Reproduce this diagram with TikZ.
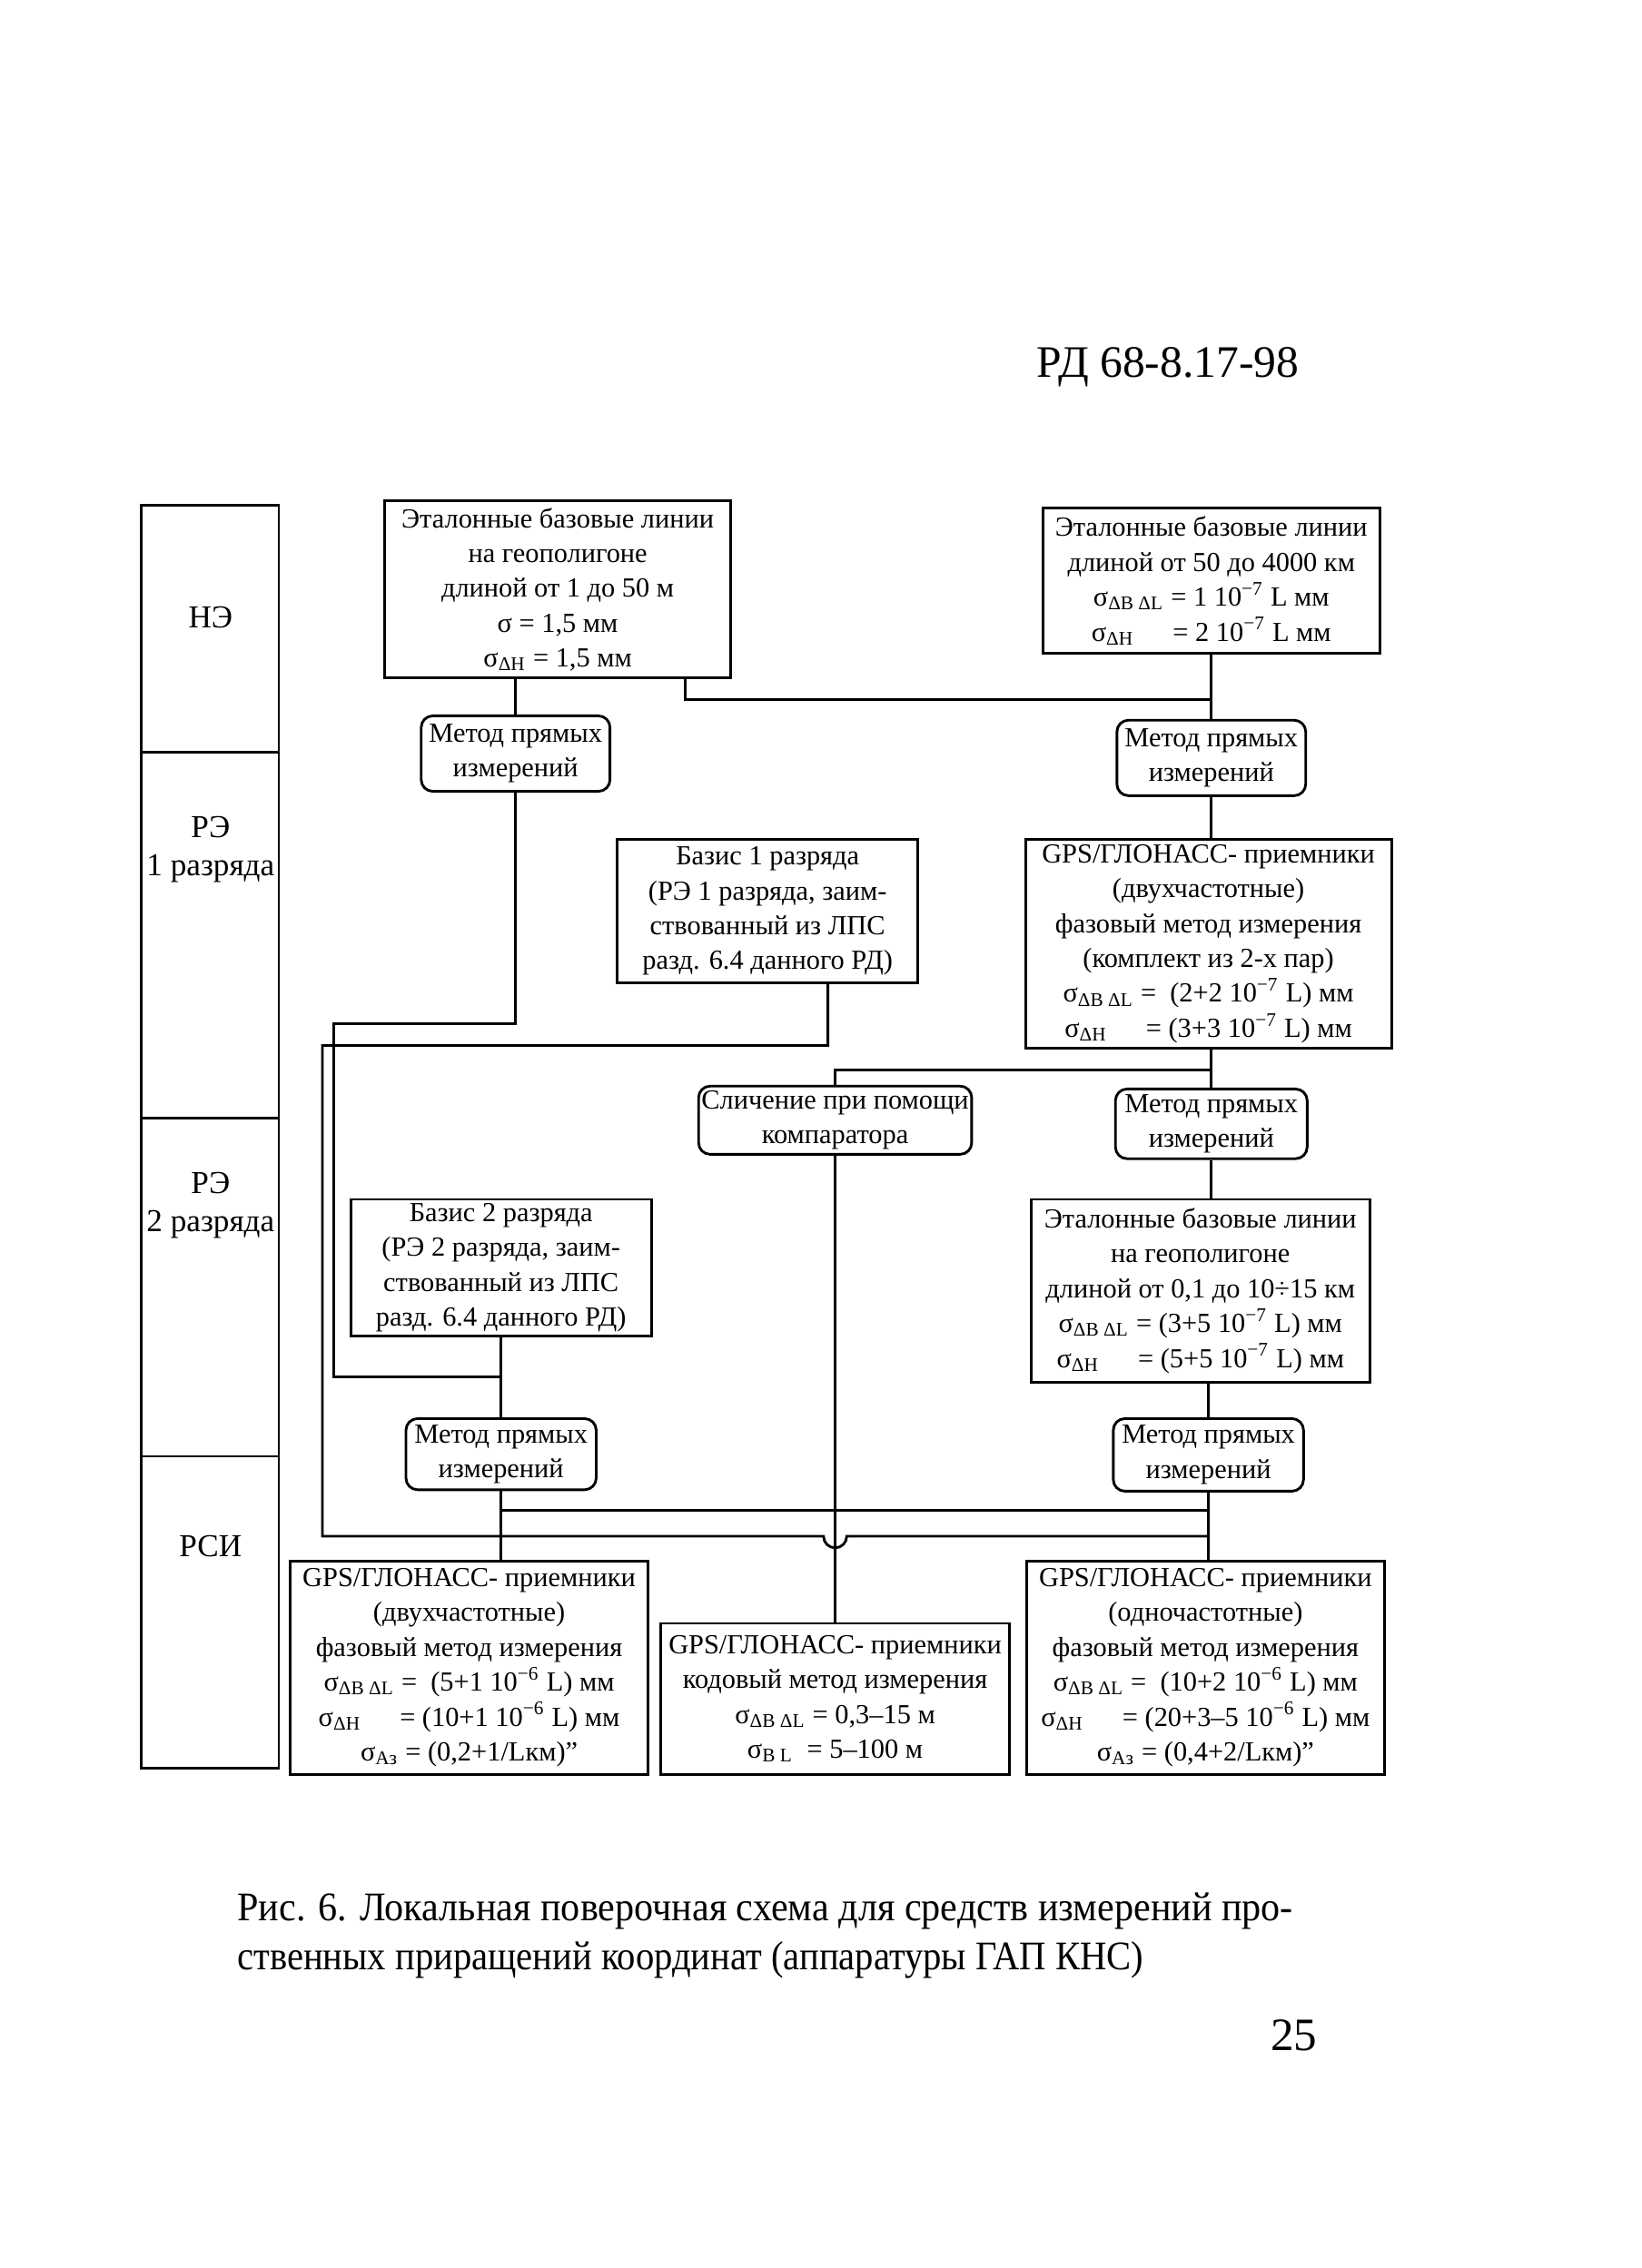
\documentclass[tikz,border=0pt]{standalone}
\usepackage{fontspec}
\setmainfont{Liberation Serif}
\usepackage{graphicx}
\newcommand{\sgm}[1]{σ\textsubscript{#1}}
\newcommand{\pw}[1]{\textsuperscript{#1}}
\begin{document}
\begin{tikzpicture}[x=0.5pt,y=-0.5pt,
  box/.style={draw, line width=0.9pt, align=center, inner sep=1pt, font=\fontsize{9.5}{12}\selectfont},
  rbox/.style={box, rounded corners=4pt},
  conn/.style={line width=0.9pt},
  lbl/.style={align=center, font=\fontsize{11}{13}\selectfont}]
\useasboundingbox (0,0) rectangle (1130,1562);
\fill[white] (0,0) rectangle (1130,1562);

% header
\node[font=\fontsize{15.5}{18}\selectfont] (hdr) at (804,253) {РД 68-8.17-98};

% left column
\draw[conn] (97,348) rectangle (192,1218);
\draw[conn] (97,518) -- (192,518);
\draw[conn] (97,770) -- (192,770);
\draw[conn] (97,1003) -- (192,1003);
\node[lbl] (lNE) at (145,425) {НЭ};
\node[lbl] (lRE1) at (145,585) {РЭ\\1 разряда};
\node[lbl] (lRE2) at (145,830) {РЭ\\2 разряда};
\node[lbl] (lRSI) at (145,1065) {РСИ};

% boxes
\node[box, minimum width=119pt, minimum height=61pt] (b1) at (384,406)
 {Эталонные базовые линии\\на геополигоне\\длиной от 1 до 50 м\\σ = 1,5 мм\\\sgm{ΔH} = 1,5 мм};
\node[box, minimum width=116pt, minimum height=50pt] (b2) at (834,400)
 {Эталонные базовые линии\\длиной от 50 до 4000 км\\\sgm{ΔB ΔL} = 1 10\pw{−7} L мм\\\sgm{ΔH}\hspace{1.4em}= 2 10\pw{−7} L мм};
\node[rbox, minimum width=65pt, minimum height=26pt] (m1) at (355,519) {Метод прямых\\измерений};
\node[rbox, minimum width=65pt, minimum height=26pt] (m2) at (834,522) {Метод прямых\\измерений};
\node[box, minimum width=103.5pt, minimum height=49.5pt] (bz1) at (528.5,627.5)
 {Базис 1 разряда\\(РЭ 1 разряда, заим-\\ствованный из ЛПС\\разд. 6.4 данного РД)};
\node[box, minimum width=126pt, minimum height=72pt] (gps1) at (832,650)
 {GPS/ГЛОНАСС- приемники\\(двухчастотные)\\фазовый метод измерения\\(комплект из 2-х пар)\\\sgm{ΔB ΔL} = \ (2+2 10\pw{−7} L) мм\\\sgm{ΔH}\hspace{1.4em}= (3+3 10\pw{−7} L) мм};
\node[rbox, minimum width=92pt, minimum height=23.5pt] (cmp) at (575,771.5) {Сличение при помощи\\компаратора};
\node[rbox, minimum width=66pt, minimum height=24pt] (m3) at (834,774) {Метод прямых\\измерений};
\node[box, minimum width=103.5pt, minimum height=47pt] (bz2) at (345,873)
 {Базис 2 разряда\\(РЭ 2 разряда, заим-\\ствованный из ЛПС\\разд. 6.4 данного РД)};
\node[box, minimum width=116.5pt, minimum height=63pt] (et3) at (826.5,889)
 {Эталонные базовые линии\\на геополигоне\\длиной от 0,1 до 10÷15 км\\\sgm{ΔB ΔL} = (3+5 10\pw{−7} L) мм\\\sgm{ΔH}\hspace{1.4em}= (5+5 10\pw{−7} L) мм};
\node[rbox, minimum width=65.5pt, minimum height=24.5pt] (m4) at (345,1001.5) {Метод прямых\\измерений};
\node[rbox, minimum width=65.5pt, minimum height=25pt] (m5) at (832,1002) {Метод прямых\\измерений};
\node[box, minimum width=123pt, minimum height=73.5pt] (gl) at (323,1148.5)
 {GPS/ГЛОНАСС- приемники\\(двухчастотные)\\фазовый метод измерения\\\sgm{ΔB ΔL} = \ (5+1 10\pw{−6} L) мм\\\sgm{ΔH}\hspace{1.4em}= (10+1 10\pw{−6} L) мм\\\sgm{Aз} = (0,2+1/Lкм)"};
\node[box, minimum width=120pt, minimum height=52pt] (gm) at (575,1170)
 {GPS/ГЛОНАСС- приемники\\кодовый метод измерения\\\sgm{ΔB ΔL} = 0,3–15 м\\\sgm{B L}\ \ = 5–100 м};
\node[box, minimum width=123pt, minimum height=73.5pt] (gr) at (830,1148.5)
 {GPS/ГЛОНАСС- приемники\\(одночастотные)\\фазовый метод измерения\\\sgm{ΔB ΔL} = \ (10+2 10\pw{−6} L) мм\\\sgm{ΔH}\hspace{1.4em}= (20+3–5 10\pw{−6} L) мм\\\sgm{Aз} = (0,4+2/Lкм)"};

% junction coordinates
\coordinate (j1) at (472,482);
\coordinate (j2) at (834,482);
\coordinate (pA) at (355,705);
\coordinate (pB) at (230,705);
\coordinate (pC) at (230,948);
\coordinate (pD) at (345,948);
\coordinate (k1) at (570,720);
\coordinate (k2) at (222,720);
\coordinate (k3) at (222,1058);
\coordinate (k4) at (832,1058);
\coordinate (q1) at (834,737);
\coordinate (h1) at (345,1040);
\coordinate (h2) at (832,1040);

% connectors
\draw[conn] (b1.south -| m1) -- (m1.north);
\draw[conn] (b1.south -| j1) -- (j1) -- (j2);
\draw[conn] (b2.south) -- (m2.north);
\draw[conn] (m2.south) -- (gps1.north -| m2);
\draw[conn] (m1.south) -- (pA) -- (pB) -- (pC) -- (pD);
\draw[conn] (bz1.south -| k1) -- (k1) -- (k2) -- (k3) -- (567,1058) arc (180:0:8) -- (k4);
\draw[conn] (gps1.south -| m3) -- (m3.north);
\draw[conn] (cmp.north) |- (q1);
\draw[conn] (m3.south) -- (et3.north -| m3);
\draw[conn] (et3.south -| m5) -- (m5.north);
\draw[conn] (bz2.south) -- (m4.north);
\draw[conn] (m4.south) -- (gl.north -| m4);
\draw[conn] (m5.south) -- (gr.north -| m5);
\draw[conn] (h1) -- (h2);
\draw[conn] (cmp.south) -- (gm.north);

% caption
\node[anchor=west, inner sep=0pt, font=\fontsize{14}{17}\selectfont] (cap1) at (163,1316)
 {\resizebox{363.5pt}{\height}{Рис. 6. Локальная поверочная схема для средств измерений про-}};
\node[anchor=west, inner sep=0pt, font=\fontsize{14}{17}\selectfont] (cap2) at (163,1350)
 {\resizebox{312pt}{\height}{ственных приращений координат (аппаратуры ГАП КНС)}};
\node[font=\fontsize{16}{18}\selectfont] (pg) at (891,1402) {25};
\end{tikzpicture}
\end{document}
